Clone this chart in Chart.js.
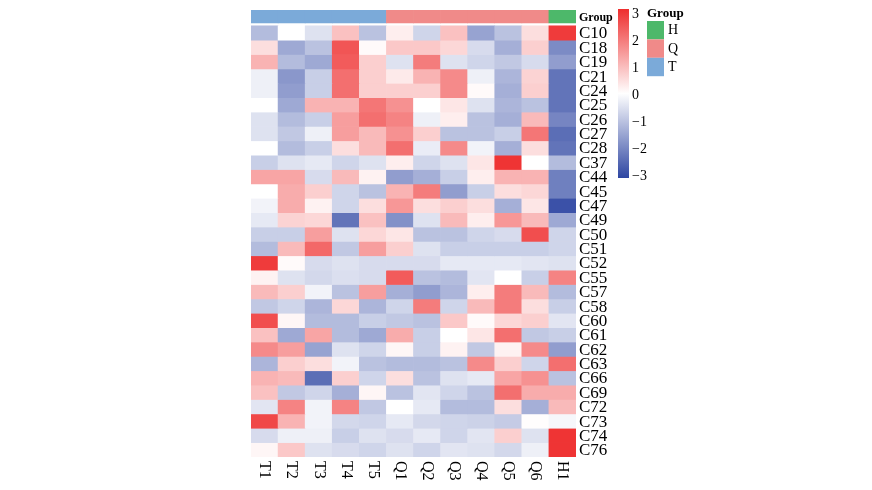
<!DOCTYPE html>
<html>
<head>
<meta charset="utf-8">
<title>Heatmap</title>
<script src="https://cdn.jsdelivr.net/npm/chart.js@4.4.1/dist/chart.umd.min.js"></script>
<style>
  html, body { margin: 0; padding: 0; background: #ffffff; }
  #heat { display: block; }
</style>
</head>
<body>
<canvas id="heat" width="872" height="490"></canvas>
<script>
'use strict';

// Samples (columns) and their group
const samples = ["T1", "T2", "T3", "T4", "T5", "Q1", "Q2", "Q3", "Q4", "Q5", "Q6", "H1"];
const sampleGroups = ["T", "T", "T", "T", "T", "Q", "Q", "Q", "Q", "Q", "Q", "H"];

// Features (rows)
const features = [
    "C10", "C18", "C19", "C21", "C24", "C25", "C26", "C27", "C28", "C37",
    "C44", "C45", "C47", "C49", "C50", "C51", "C52", "C55", "C57", "C58",
    "C60", "C61", "C62", "C63", "C66", "C69", "C72", "C73", "C74", "C76"
];

// Scaled values, one row per feature, columns in the order of `samples`
const zscores = [
    [-1.0, 0.0, -0.4, 0.8, -0.9, 0.2, -0.6, 0.8, -1.4, -0.9, 0.4, 2.8],     // C10
    [0.4, -1.3, -0.9, 2.4, 0.05, 0.7, 0.7, 0.5, -0.5, -1.2, 0.6, -1.8],     // C18
    [1.0, -1.0, -1.3, 2.3, 0.6, -0.4, 1.8, -0.4, -0.6, -0.8, -0.5, -1.5],   // C19
    [-0.2, -1.6, -0.7, 2.0, 0.6, 0.25, 1.0, 1.6, -0.2, -1.1, 0.55, -2.2],   // C21
    [-0.2, -1.5, -0.7, 2.0, 0.6, 0.6, 0.6, 1.6, 0.05, -1.2, 0.6, -2.2],     // C24
    [0.0, -1.3, 1.0, 1.0, 1.9, 1.5, 0.0, 0.3, -0.4, -1.1, -0.9, -2.2],      // C25
    [-0.4, -1.0, -0.7, 1.3, 2.0, 1.7, -0.2, 0.2, -0.9, -1.2, 0.9, -1.9],    // C26
    [-0.4, -0.8, -0.2, 1.3, 0.9, 1.5, 0.6, -0.9, -0.9, -0.7, 1.9, -2.3],    // C27
    [0.0, -1.0, -0.7, 0.4, 0.9, 2.0, -0.25, 1.6, -0.15, -1.2, 0.4, -2.2],   // C28
    [-0.7, -0.4, -0.3, -0.6, -0.4, 0.2, -0.6, -0.4, 0.3, 2.9, 0.0, -1.0],   // C37
    [1.2, 1.2, -0.5, 0.9, 0.15, -1.5, -1.2, -0.7, 0.2, 1.0, 1.0, -2.0],     // C44
    [0.0, 1.1, 0.6, -0.6, -0.9, 1.0, 1.8, -1.5, -0.7, 0.4, 0.5, -2.0],      // C45
    [-0.15, 1.1, 0.15, -0.6, 0.4, 1.4, 0.4, 0.6, 0.4, -1.2, 0.3, -2.8],     // C47
    [-0.3, 0.55, 0.5, -2.2, 0.8, -1.7, -0.4, 0.9, 0.2, 1.4, 0.9, -1.3],     // C49
    [-0.7, -0.7, 1.3, -0.4, 0.5, 0.3, -0.9, -0.9, -0.6, -0.5, 2.5, -0.6],   // C50
    [-1.0, 0.9, 2.1, -0.8, 1.3, 0.6, -0.4, -0.7, -0.7, -0.7, -0.7, -0.6],   // C51
    [2.8, 0.05, -0.5, -0.4, -0.5, -0.5, -0.5, -0.3, -0.3, -0.3, -0.35, -0.4], // C52
    [0.15, -0.4, -0.55, -0.45, -0.5, 2.3, -0.9, -1.0, -0.35, 0.0, -0.7, 1.7], // C55
    [0.9, 0.6, -0.15, -0.9, 1.3, -1.2, -1.5, -1.1, 0.2, 1.8, 0.9, -1.0],    // C57
    [-0.8, -0.6, -1.1, 0.5, -1.1, -0.6, 1.8, -0.6, 0.9, 1.8, 0.4, -0.7],    // C58
    [2.5, 0.1, -1.0, -1.0, -0.7, -0.8, -0.9, 0.7, 0.05, 0.5, 0.6, -0.35],   // C60
    [0.8, -1.3, 1.2, -1.0, -1.3, 1.1, -0.7, 0.0, 0.3, 2.0, -0.8, -0.7],     // C61
    [1.6, 1.3, -1.4, -0.4, -0.6, 0.1, -0.7, 0.15, -0.8, 0.15, 1.6, -1.5],   // C62
    [-1.1, 0.6, 0.4, -0.15, -0.9, -1.0, -1.0, -0.9, 1.6, 0.6, -0.6, 2.0],   // C63
    [1.0, 0.9, -2.3, 0.6, -0.6, 0.4, -0.9, -0.4, -0.3, 1.2, 1.5, -0.9],     // C66
    [0.8, -0.8, -0.6, -1.2, 0.1, -0.9, -0.35, -0.6, -0.9, 2.0, 1.1, 1.1],   // C69
    [-0.35, 1.7, -0.15, 1.7, -0.8, 0.0, -0.3, -1.0, -1.0, 0.4, -1.2, 0.9],  // C72
    [2.6, 1.0, -0.15, -0.55, -0.6, -0.3, -0.55, -0.6, -0.65, -0.75, 0.02, -0.1], // C73
    [-0.5, -0.2, -0.2, -0.7, -0.4, -0.5, -0.3, -0.6, -0.35, 0.6, -0.4, 2.9], // C74
    [0.1, 0.7, -0.4, -0.5, -0.6, -0.4, -0.6, -0.35, -0.4, -0.55, -0.2, 2.9]  // C76
];

// Legend entries
const groupNames = ["H", "Q", "T"];
const colorTicks = [3, 2, 1, 0, -1, -2, -3];

const GROUP_COLORS = { H: "#4db86a", Q: "#f08a89", T: "#7baad9" };
const LOW = [46, 70, 162];
const HIGH = [238, 46, 46];
const SERIF = '"Liberation Serif", "Times New Roman", serif';

function heatColor(v) {
    const t = Math.pow(Math.min(Math.abs(v), 3) / 3, 0.92);
    const end = v < 0 ? LOW : HIGH;
    const c = end.map(e => Math.round(255 + (e - 255) * t));
    return 'rgb(' + c[0] + ',' + c[1] + ',' + c[2] + ')';
}

// Group annotation strip sits above row 0
const STRIP_TOP = -1.1;
const STRIP_BOTTOM = -0.2;

const datasets = [];
datasets.push({
    label: 'Group',
    data: samples.map(() => [STRIP_TOP, STRIP_BOTTOM]),
    backgroundColor: sampleGroups.map(g => GROUP_COLORS[g])
});
features.forEach(function (name, r) {
    datasets.push({
        label: name,
        data: samples.map(() => [r, r + 1]),
        backgroundColor: zscores[r].map(heatColor)
    });
});

const labelsPlugin = {
    id: 'heatLabels',
    afterDraw(chart) {
        const ctx = chart.ctx;
        const xs = chart.scales.x;
        const ys = chart.scales.y;
        const area = chart.chartArea;
        ctx.save();
        ctx.fillStyle = '#000';

        // row labels
        ctx.font = '17px ' + SERIF;
        ctx.textAlign = 'left';
        ctx.textBaseline = 'middle';
        features.forEach(function (name, r) {
            ctx.fillText(name, area.right + 3, ys.getPixelForValue(r + 0.5) + 1);
        });

        // strip title
        ctx.font = 'bold 12px ' + SERIF;
        ctx.fillText('Group', area.right + 3, ys.getPixelForValue((STRIP_TOP + STRIP_BOTTOM) / 2) + 1);

        // column labels, reading downwards
        ctx.font = '16px ' + SERIF;
        samples.forEach(function (name, i) {
            ctx.save();
            ctx.translate(xs.getPixelForValue(i), area.bottom + 4);
            ctx.rotate(Math.PI / 2);
            ctx.textAlign = 'left';
            ctx.textBaseline = 'middle';
            ctx.fillText(name, 0, 0);
            ctx.restore();
        });

        // colour key
        const barX = 618, barW = 11, barTop = 9, barBottom = 178;
        const valTop = 14, valBottom = 176;
        const grad = ctx.createLinearGradient(0, barTop, 0, barBottom);
        grad.addColorStop(0, heatColor(3));
        grad.addColorStop(0.5, '#ffffff');
        grad.addColorStop(1, heatColor(-3));
        ctx.fillStyle = grad;
        ctx.fillRect(barX, barTop, barW, barBottom - barTop);
        ctx.fillStyle = '#000';
        ctx.font = '14px ' + SERIF;
        colorTicks.forEach(function (t) {
            const y = valTop + (3 - t) / 6 * (valBottom - valTop);
            ctx.fillText(t < 0 ? '\u2212' + Math.abs(t) : String(t), barX + barW + 3, y);
        });

        // group legend
        ctx.font = 'bold 13px ' + SERIF;
        ctx.fillText('Group', 647, 14);
        ctx.font = '14px ' + SERIF;
        groupNames.forEach(function (g, i) {
            const y = 21 + i * 18.4;
            ctx.fillStyle = GROUP_COLORS[g];
            ctx.fillRect(647, y, 17, 18.4);
            ctx.fillStyle = '#000';
            ctx.fillText(g, 668, y + 9.5);
        });
        ctx.restore();
    }
};

new Chart(document.getElementById('heat'), {
    type: 'bar',
    data: { labels: samples, datasets: datasets },
    options: {
        responsive: false,
        animation: false,
        events: [],
        layout: { padding: { left: 251, right: 296, top: 10, bottom: 33 } },
        datasets: {
            bar: {
                grouped: false,
                barPercentage: 1,
                categoryPercentage: 1,
                borderWidth: 0
            }
        },
        plugins: {
            legend: { display: false },
            tooltip: { enabled: false },
            title: { display: false }
        },
        scales: {
            x: { display: false, grid: { display: false } },
            y: { display: false, min: STRIP_TOP, max: features.length, reverse: true, grid: { display: false } }
        }
    },
    plugins: [labelsPlugin]
});
</script>
</body>
</html>
